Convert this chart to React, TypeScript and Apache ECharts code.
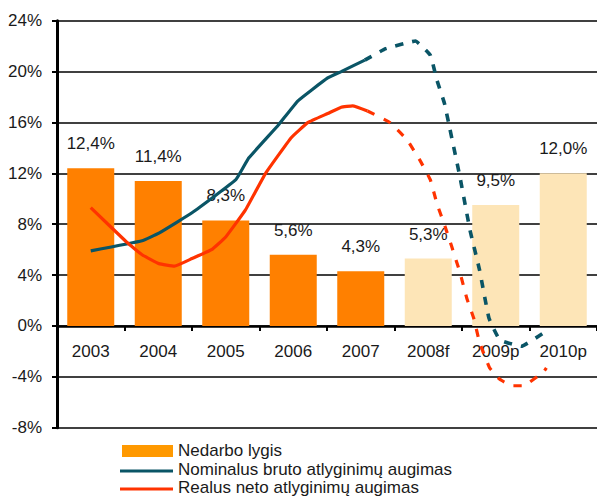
import React, { useEffect, useRef } from 'react';
import * as echarts from 'echarts';

const categories = ['2003', '2004', '2005', '2006', '2007', '2008f', '2009p', '2010p'];
const unemployment = [12.4, 11.4, 8.3, 5.6, 4.3, 5.3, 9.5, 12.0];
const forecastCategories = ['2008f', '2009p', '2010p'];

const yMin = -8;
const yMax = 24;
const yInterval = 4;

// [year position, value %]
const nominalActual: [number, number][] = [
  [2003.0, 5.9], [2003.76, 6.7], [2004.01, 7.3], [2004.5, 8.9], [2005.15, 11.5],
  [2005.34, 13.2], [2005.78, 15.8], [2006.07, 17.7], [2006.51, 19.5], [2006.71, 20.0],
  [2007.06, 20.9],
];
const nominalForecast: [number, number][] = [
  [2007.06, 20.9], [2007.37, 21.8], [2007.81, 22.4], [2008.03, 21.3], [2008.13, 19.3],
  [2008.24, 17.5], [2008.32, 15.5], [2008.47, 11.7], [2008.62, 7.5], [2008.76, 4.4],
  [2008.9, 0.6], [2009.06, -1.1], [2009.38, -1.6], [2009.72, -0.5],
];
const realActual: [number, number][] = [
  [2003.0, 9.3], [2003.53, 6.6], [2003.76, 5.6], [2004.01, 4.9], [2004.24, 4.7],
  [2004.5, 5.3], [2004.79, 6.0], [2005.0, 7.0], [2005.29, 9.1], [2005.59, 12.0],
  [2005.97, 14.8], [2006.22, 16.0], [2006.51, 16.7], [2006.71, 17.2], [2006.88, 17.3],
  [2007.1, 16.9],
];
const realForecast: [number, number][] = [
  [2007.1, 16.9], [2007.43, 16.0], [2007.69, 14.6], [2007.88, 13.0], [2008.03, 11.5],
  [2008.13, 9.6], [2008.25, 7.8], [2008.35, 6.2], [2008.47, 4.2], [2008.57, 2.2],
  [2008.68, 0.5], [2008.76, -1.3], [2008.91, -3.3], [2009.06, -4.2], [2009.24, -4.7],
  [2009.41, -4.7], [2009.71, -3.6], [2009.75, -3.3],
];

const legendLabels = ['Nedarbo lygis', 'Nominalus bruto atlyginimų augimas', 'Realus neto atlyginimų augimas'];

const FONT = '"Liberation Sans", Arial, sans-serif';
const ORANGE = '#FF8000';
const LIGHT = '#FDE5B7';
const TEAL = '#0A5566';
const RED = '#FF3300';
const TEXT = '#1a1a1a';

const GRID_TOP = 20.7;
const GRID_HEIGHT = 407;

export default function App() {
  const ref = useRef<HTMLDivElement>(null);

  useEffect(() => {
    if (!ref.current) return;
    const chart = echarts.init(ref.current, undefined, { renderer: 'svg' });
    const fmt = (v: number) => v.toFixed(1).replace('.', ',') + '%';
    // raise the category axis to the zero line
    const zeroOffset = -GRID_HEIGHT * (0 - yMin) / (yMax - yMin);

    chart.setOption({
      animation: false,
      grid: { left: 57, top: GRID_TOP, width: 544, height: GRID_HEIGHT, containLabel: false },
      xAxis: [
        {
          type: 'category',
          data: categories,
          position: 'bottom',
          offset: zeroOffset,
          axisLine: { show: true, onZero: false, lineStyle: { color: '#000', width: 2.5 } },
          axisTick: { show: true, length: 5, interval: 0, lineStyle: { color: '#000', width: 2 } },
          axisLabel: { color: TEXT, fontSize: 17, fontFamily: FONT, margin: 17, interval: 0 },
          splitLine: { show: false },
        },
        {
          type: 'value',
          min: 2002.5,
          max: 2010.5,
          show: false,
          axisLine: { onZero: false },
        },
      ],
      yAxis: {
        type: 'value',
        min: yMin,
        max: yMax,
        interval: yInterval,
        axisLine: { show: true, onZero: false, lineStyle: { color: '#000', width: 3 } },
        axisTick: { show: true, length: 5, lineStyle: { color: '#000', width: 2 } },
        axisLabel: { color: TEXT, fontSize: 17, fontFamily: FONT, margin: 15, formatter: '{value}%' },
        splitLine: { show: true, lineStyle: { color: '#000', width: 1.6 } },
      },
      series: [
        {
          type: 'bar',
          xAxisIndex: 0,
          barWidth: 47,
          data: unemployment.map((v, i) => ({
            value: v,
            itemStyle: { color: forecastCategories.includes(categories[i]) ? LIGHT : ORANGE },
          })),
          label: {
            show: true,
            position: 'top',
            distance: 16,
            color: TEXT,
            fontSize: 17,
            fontFamily: FONT,
            formatter: (p: any) => fmt(p.value),
          },
          z: 1,
        },
        {
          type: 'line', xAxisIndex: 1, data: nominalActual, showSymbol: false, smooth: 0.1,
          lineStyle: { color: TEAL, width: 3.2 }, z: 3,
        },
        {
          type: 'line', xAxisIndex: 1, data: nominalForecast, showSymbol: false, smooth: 0.1,
          lineStyle: { color: TEAL, width: 3.6, type: [8, 9] }, z: 3,
        },
        {
          type: 'line', xAxisIndex: 1, data: realActual, showSymbol: false, smooth: 0.1,
          lineStyle: { color: RED, width: 3.2 }, z: 3,
        },
        {
          type: 'line', xAxisIndex: 1, data: realForecast, showSymbol: false, smooth: 0.1,
          lineStyle: { color: RED, width: 3.2, type: [8, 10] }, z: 3,
        },
      ],
      graphic: [
        { type: 'rect', left: 122, top: 445, shape: { width: 51, height: 12 }, style: { fill: '#FF9900' } },
        { type: 'line', shape: { x1: 120, y1: 471, x2: 173, y2: 471 }, style: { stroke: TEAL, lineWidth: 3.2 } },
        { type: 'line', shape: { x1: 120, y1: 489, x2: 173, y2: 489 }, style: { stroke: RED, lineWidth: 3.2 } },
        { type: 'text', left: 178, top: 442, style: { text: legendLabels[0], fill: TEXT, fontSize: 17, fontFamily: FONT } },
        { type: 'text', left: 178, top: 461, style: { text: legendLabels[1], fill: TEXT, fontSize: 17, fontFamily: FONT } },
        { type: 'text', left: 178, top: 479, style: { text: legendLabels[2], fill: TEXT, fontSize: 17, fontFamily: FONT } },
      ],
    });
    return () => chart.dispose();
  }, []);

  return (
    <div
      ref={ref}
      style={{ position: 'fixed', left: 0, top: 0, width: 597, height: 497, background: '#fff', overflow: 'hidden' }}
    />
  );
}
